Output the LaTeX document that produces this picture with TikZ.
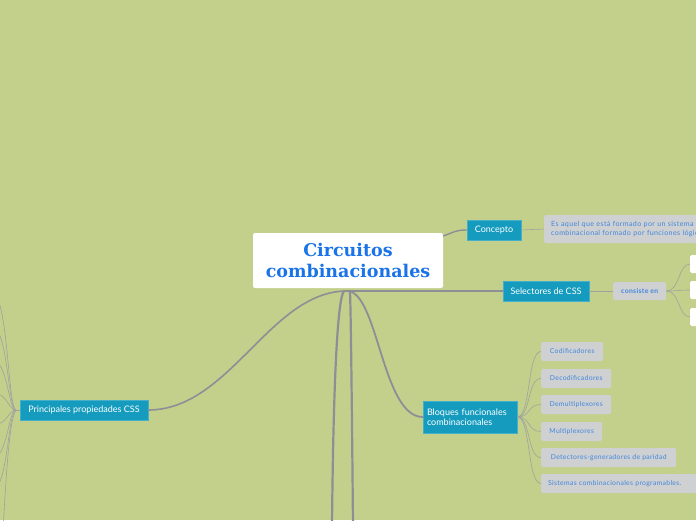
\documentclass[tikz,border=0pt]{standalone}
\usepackage{fontspec}
\setmainfont{Liberation Serif}
\newfontfamily\titlefont{DejaVu Serif}
\newfontfamily\tealfont{Lato}
\newfontfamily\childfont[LetterSpace=5]{Lato}
\definecolor{bgc}{RGB}{194,208,139}
\definecolor{tealc}{RGB}{20,155,190}
\definecolor{grayc}{RGB}{206,208,210}
\definecolor{titleblue}{RGB}{26,115,232}
\definecolor{childblue}{RGB}{66,135,220}
\definecolor{mainline}{RGB}{142,143,150}
\definecolor{thinline}{RGB}{160,162,160}
\tikzset{
  rootbox/.style={draw=none,fill=white,rounded corners=2pt,minimum width=190pt,minimum height=55pt,align=center,inner sep=0pt,text=titleblue,font=\titlefont\bfseries\fontsize{17.5}{21}\selectfont},
  tealbox/.style={draw=tealc!80!white,line width=0.4pt,fill=tealc,inner sep=0pt,minimum height=20pt,text=white,font=\tealfont\fontsize{9}{10.5}\selectfont},
  graybox/.style={draw=none,fill=grayc,rounded corners=1.5pt,inner sep=0pt,minimum height=19pt,anchor=west,text=childblue,font=\childfont\fontsize{6.8}{8.5}\selectfont},
  whitebox/.style={draw=none,fill=white,rounded corners=1.5pt,minimum width=24pt,minimum height=18pt,anchor=west,inner sep=0pt},
  mainconn/.style={draw=mainline,line width=2.2pt,line cap=round},
  midconn/.style={draw=mainline,line width=1.4pt},
  thinconn/.style={draw=thinline,line width=0.6pt}
}
\begin{document}
\begin{tikzpicture}[x=1pt,y=-1pt]
\useasboundingbox (0,0) rectangle (696,520);
\fill[bgc] (0,0) rectangle (696,520);
\clip (0,0) rectangle (696,520);

% coordinates
\coordinate (rb) at (347,291);
\coordinate (rbL) at (344,291);
\coordinate (rbR) at (350,291);
\coordinate (d1) at (332,525);
\coordinate (d2) at (353,525);
\coordinate (jn) at (16,410);

\node[tealbox,minimum width=128pt] (prin) at (84,410) {Principales propiedades CSS};
\node[tealbox,minimum width=54pt] (conc) at (494,230) {Concepto};
\node[tealbox,minimum width=86pt] (sel) at (546,291) {Selectores de CSS};
\node[tealbox,minimum width=94pt,minimum height=32pt,align=left,text width=86pt,inner xsep=4pt] (blo) at (470,417) {Bloques funcionales\\combinacionales};

\draw[mainconn,line width=1.6pt] (rb) .. controls (270,291) and (230,410) .. (prin.east);
\draw[mainconn] (rb) -- (sel.west);
\draw[mainconn,line width=1.8pt] (rb) .. controls (378,291) and (382,417) .. (blo.west);
\draw[mainconn] (rbL) .. controls (336,300) and (333,420) .. (d1);
\draw[mainconn] (rbR) .. controls (351,320) and (352,420) .. (d2);

\node[rootbox] (root) at (348,260.5) {Circuitos\\combinacionales};
\coordinate (ce) at (443,236);
\draw[midconn] (ce) .. controls (455,232) and (455,230) .. (conc.west);

\node[graybox,minimum width=165pt,minimum height=28pt,align=left,text width=158pt,inner xsep=7pt,font=\childfont\fontsize{7.1}{9.5}\selectfont] (desc) at (544,229) {Es aquel que está formado por un sistema\\combinacional formado por funciones lógicas};
\draw[thinconn] (conc.east) -- (desc.west);

\node[graybox,minimum width=53pt,minimum height=18pt,font=\childfont\bfseries\fontsize{6.8}{8}\selectfont] (cons) at (613,291) {consiste en};
\draw[thinconn] (sel.east) -- (cons.west);

\node[whitebox] (w1) at (690,264) {};
\node[whitebox] (w2) at (690,290) {};
\node[whitebox] (w3) at (690,317) {};
\foreach \w in {w1,w2,w3}{
  \draw[thinconn] (cons.east) .. controls (680,291) and (678,0|-\w.west) .. (\w.west);
}

\node[graybox,minimum width=62pt] (c1) at (541,351.5) {Codificadores};
\node[graybox,minimum width=70pt] (c2) at (541,378.5) {Decodificadores};
\node[graybox,minimum width=70pt] (c3) at (541,404.5) {Demultiplexores};
\node[graybox,minimum width=61pt] (c4) at (541,431.5) {Multiplexores};
\node[graybox,minimum width=135pt] (c5) at (541,457.5) {Detectores-generadores de paridad};
\node[graybox,minimum width=160pt,align=left,text width=152pt,inner xsep=7pt] (c6) at (541,483.5) {Sistemas combinacionales programables.};
\foreach \c in {c1,c2,c3,c4,c5,c6}{
  \draw[thinconn] (blo.east) .. controls (531,417) and (527,0|-\c.west) .. (\c.west);
}

% left fan
\draw[thinconn] (prin.west) -- (jn);
\foreach \yy in {293,327,360,393,425,458,490}{
  \coordinate (fan\yy) at (-8,\yy);
  \draw[thinconn] (jn) .. controls (8,410) and (8,\yy) .. (fan\yy);
}
\coordinate (fanb) at (3,530);
\draw[thinconn] (jn) .. controls (9,420) and (6,480) .. (fanb);
\end{tikzpicture}
\end{document}
